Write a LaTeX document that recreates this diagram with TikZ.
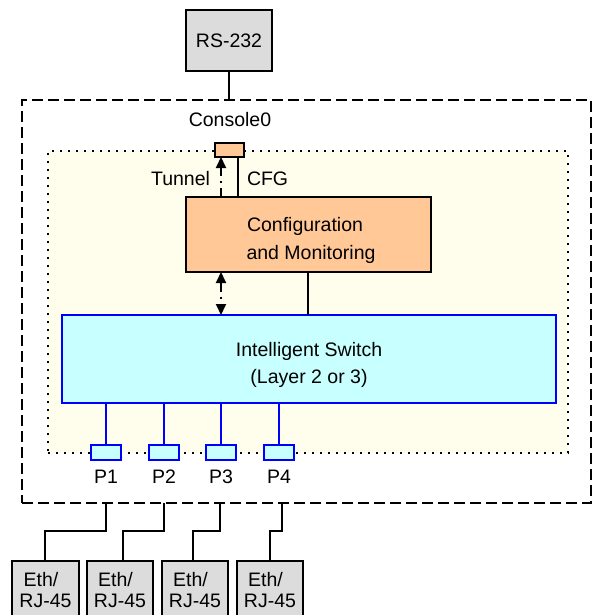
\documentclass[tikz,border=0pt]{standalone}
\usepackage{fontspec}
\setmainfont{Liberation Sans}
\usetikzlibrary{arrows.meta}
\definecolor{grayfill}{RGB}{220,220,220}
\definecolor{orangefill}{RGB}{255,200,150}
\definecolor{cyanfill}{RGB}{200,255,255}
\definecolor{creamfill}{RGB}{255,253,235}
\definecolor{swblue}{RGB}{0,0,255}
\tikzset{mytip/.tip={Triangle[length=11pt,width=10pt]}}
\begin{document}
\begin{tikzpicture}[x=1pt,y=-1pt,
  font=\fontsize{19.5}{28}\selectfont,
  every node/.style={inner sep=0pt, outer sep=0pt},
  box/.style={draw=black, line width=2pt, align=center},
  bluebox/.style={draw=swblue, line width=2.2pt, fill=cyanfill},
  wire/.style={draw=black, line width=2pt},
  bluewire/.style={draw=swblue, line width=2.4pt},
  dashdot/.style={line width=2pt, dash pattern=on 9pt off 5pt on 2pt off 5pt},
  lbl/.style={anchor=base}
]
\useasboundingbox (0,0) rectangle (598,615);
\clip (0,0) rectangle (598,615);

% outer dashed enclosure
\node[draw, line width=2pt, dash pattern=on 11pt off 5pt,
      minimum width=569pt, minimum height=403pt] (outer) at (306.5,301.5) {};
% inner dotted area
\node[draw, line width=1.6pt, dash pattern=on 1.6pt off 6.4pt, fill=creamfill,
      minimum width=520pt, minimum height=302pt] (inner) at (308,302) {};

% RS-232
\node[box, fill=grayfill, minimum width=86pt, minimum height=61pt] (rs) at (229,40.5) {RS-232};

% console port
\node[box, fill=orangefill, minimum width=29pt, minimum height=14pt] (con) at (229.5,150) {};
\node[lbl] (conlbl) at (230,127) {Console0};

% configuration box
\node[box, fill=orangefill, minimum width=245pt, minimum height=75pt] (cfg) at (308.5,234.5) {};
\node[align=center, font=\fontsize{19.5}{28}\selectfont] (cfgtxt) at (311,240) {Configuration\hspace*{12pt}\\and Monitoring};

% switch
\node[bluebox, minimum width=494pt, minimum height=88pt] (sw) at (309,359) {};
\node[align=center, font=\fontsize{19.5}{27.6}\selectfont] (swtxt) at (309,364.8) {Intelligent Switch\\(Layer 2 or 3)};

% ports
\foreach \i/\x in {1/106,2/164,3/221,4/279}{
  \node[bluebox, minimum width=30pt, minimum height=15pt] (p\i) at (\x,452.5) {};
  \node[lbl] (pl\i) at (\x,483) {P\i};
  \draw[bluewire] (sw.south -| p\i) -- (p\i.north);
}

% Eth boxes
\foreach \i/\x/\w in {1/45.5/67,2/120/66,3/195/66,4/270/66}{
  \node[box, fill=grayfill, minimum width=\w pt, minimum height=62pt] (eth\i) at (\x,592) {};
  \node[align=center, font=\fontsize{19.5}{21}\selectfont] (etht\i) at (\x,589.7) {Eth/\hspace*{9pt}\\RJ-45};
}

% connectors
\draw[wire] (rs.south) -- (rs.south |- outer.north);
\draw[dashdot, -{mytip}] (cfg.north -| 221,0) -- (con.south -| 221,0);
\draw[wire] (cfg.north -| 238,0) -- (con.south -| 238,0);
\node[anchor=base east] (tunnel) at (210,185) {Tunnel};
\node[anchor=base west] (cfglbl) at (247,185) {CFG};
\draw[dashdot, {mytip}-{mytip}] (cfg.south -| 221,0) -- (sw.north -| 221,0);
\draw[wire] (cfg.south -| 308,0) -- (sw.north -| 308,0);

\draw[wire] (outer.south -| 106,0) -- (106,531) -| (eth1.north -| 45,0);
\draw[wire] (outer.south -| 164,0) -- (164,531) -| (eth2.north -| 123,0);
\draw[wire] (outer.south -| 220,0) -- (220,531) -| (eth3.north -| 193,0);
\draw[wire] (outer.south -| 282,0) -- (282,531) -| (eth4.north -| 270,0);
\end{tikzpicture}
\end{document}
